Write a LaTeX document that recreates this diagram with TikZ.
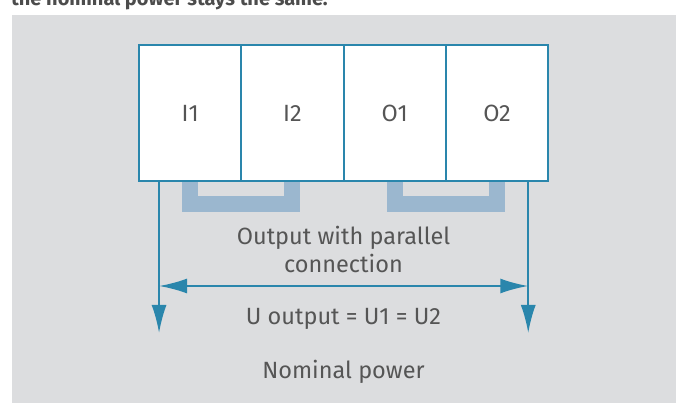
\documentclass[tikz,border=0pt]{standalone}
\usepackage{fontspec}
\setmainfont{Fira Sans}
\usetikzlibrary{positioning,arrows.meta}
\definecolor{bggray}{RGB}{220,221,223}
\definecolor{linkblue}{RGB}{42,134,172}
\definecolor{bracketblue}{RGB}{155,183,207}
\definecolor{textgray}{RGB}{85,85,85}
\begin{document}
\begin{tikzpicture}[x=1pt,y=-1pt,
    block/.style={draw=linkblue, line width=2pt, fill=white, inner sep=0pt, outer sep=0pt,
      minimum width=102.3pt, minimum height=136pt, text=textgray,
      font=\fontsize{23.5}{28}\selectfont},
    label/.style={text=textgray, font=\fontsize{23.5}{28}\selectfont, align=center},
    wire/.style={draw=linkblue, line width=2pt, -{Latex[length=28pt,width=15pt]}},
    bracket/.style={draw=bracketblue, line width=16pt, line join=miter}]

        \useasboundingbox (0,0) rectangle (681,403);
        \fill[bggray] (12,15) rectangle (676,403);
        \node[anchor=base west, inner sep=0pt, text=textgray!90!black, font=\fontsize{20}{24}\selectfont\bfseries]
          (title) at (11,6) {the nominal power stays the same.};

        % terminals
        \node[block] (I1) at (190.2,113) {I1};
        \node[block, right=0pt of I1] (I2) {I2};
        \node[block, right=0pt of I2] (O1) {O1};
        \node[block, right=0pt of O1] (O2) {O2};

        % bridges
        \foreach \a/\b in {I1/I2, O1/O2}
          \draw[bracket] ([xshift=51pt,yshift=-1pt]\a.south west) -- ++(0,22)
            -| ([xshift=51pt,yshift=-1pt]\b.south west);

        \coordinate (L1) at ([xshift=20pt]I1.south west);
        \coordinate (R1) at ([xshift=-20pt]O2.south east);
        \coordinate (L2) at ([yshift=-152pt]L1);
        \coordinate (R2) at ([yshift=-152pt]R1);
        \coordinate (hL) at ([yshift=-105pt]L1);
        \coordinate (hR) at ([yshift=-105pt]R1);

        \path[wire] (L1) -- (L2);
        \path[wire] (R1) -- (R2);
        \path[wire, {Latex[length=28pt,width=15pt]}-{Latex[length=28pt,width=15pt]}] (hL) -- (hR);

        \node[label, anchor=base] (out) at (343.5,273) {Output with parallel\\connection};
        \node[label, anchor=base] (volt) at (343.5,325) {U output = U1 = U2};
        \node[label, anchor=base] (power) at (343.5,379) {Nominal power};

      \end{tikzpicture}
\end{document}
